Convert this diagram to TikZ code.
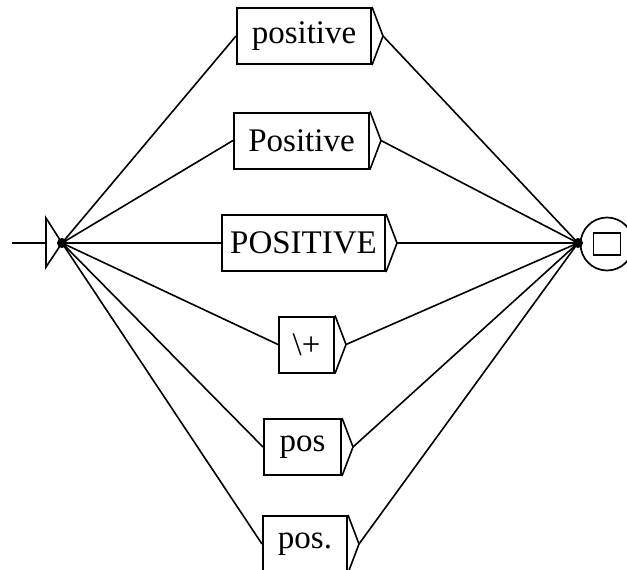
\documentclass[tikz,border=0pt]{standalone}
\usepackage{fontspec}
\setmainfont{Liberation Serif}
\usetikzlibrary{positioning}

\begin{document}
\begin{tikzpicture}[
        x=1pt, y=-1pt,
        box/.style={
            draw,
            line width=2pt,
            minimum height=56pt,
            inner sep=0pt,
            font=\fontsize{33}{38}\selectfont
        },
        link/.style={line width=1.6pt},
        tip/.style={line width=1.6pt}
    ]
        \clip (0,0) rectangle (627,570);

        % initial state
        \coordinate (start) at (12,243);
        \coordinate (init) at (62,243);
        \draw[link] (start) -- (46,243);
        \draw[tip] (46,218) -- (init) -- (46,267) -- cycle;
        \fill (init) circle (5);

        % final state
        \coordinate (end) at (578,243);
        \node[circle, draw, line width=1.7pt, minimum size=53pt] (final) at (607,244) {};
        \node[draw, line width=1.8pt, minimum width=27pt, minimum height=22pt] (square) at (final) {};
        \fill (end) circle (5);

        % boxes
        \node[box, minimum width=134pt] (lower) at (304,36) {positive};
        \node[box, minimum width=135pt] (capital) at (301.5,140.5) {Positive};
        \node[box, minimum width=163pt] (upper) at (303.5,243) {POSITIVE};
        \node[box, minimum width=55pt] (plus) at (306.5,344.5) {\textbackslash+};
        \node[box, minimum width=77pt] (abbr) at (302.5,447) {pos};
        \node[box, minimum width=84pt] (abbrdot) at (305,544) {pos.};

        \coordinate[xshift=11pt] (lowertip) at (lower.east);
        \coordinate[xshift=11pt] (capitaltip) at (capital.east);
        \coordinate[xshift=11pt] (uppertip) at (upper.east);
        \coordinate[xshift=11pt] (plustip) at (plus.east);
        \coordinate[xshift=11pt] (abbrtip) at (abbr.east);
        \coordinate[xshift=11pt] (abbrdottip) at (abbrdot.east);

        \draw[tip] (lower.north east) -- (lowertip) -- (lower.south east);
        \draw[tip] (capital.north east) -- (capitaltip) -- (capital.south east);
        \draw[tip] (upper.north east) -- (uppertip) -- (upper.south east);
        \draw[tip] (plus.north east) -- (plustip) -- (plus.south east);
        \draw[tip] (abbr.north east) -- (abbrtip) -- (abbr.south east);
        \draw[tip] (abbrdot.north east) -- (abbrdottip) -- (abbrdot.south east);

        % transitions
        \draw[link] (init) -- (lower.west);
        \draw[link] (init) -- (capital.west);
        \draw[link] (init) -- (upper.west);
        \draw[link] (init) -- (plus.west);
        \draw[link] (init) -- (abbr.west);
        \draw[link] (init) -- (abbrdot.west);

        \draw[link] (lowertip) -- (end);
        \draw[link] (capitaltip) -- (end);
        \draw[link] (uppertip) -- (end);
        \draw[link] (plustip) -- (end);
        \draw[link] (abbrtip) -- (end);
        \draw[link] (abbrdottip) -- (end);
    \end{tikzpicture}
\end{document}
